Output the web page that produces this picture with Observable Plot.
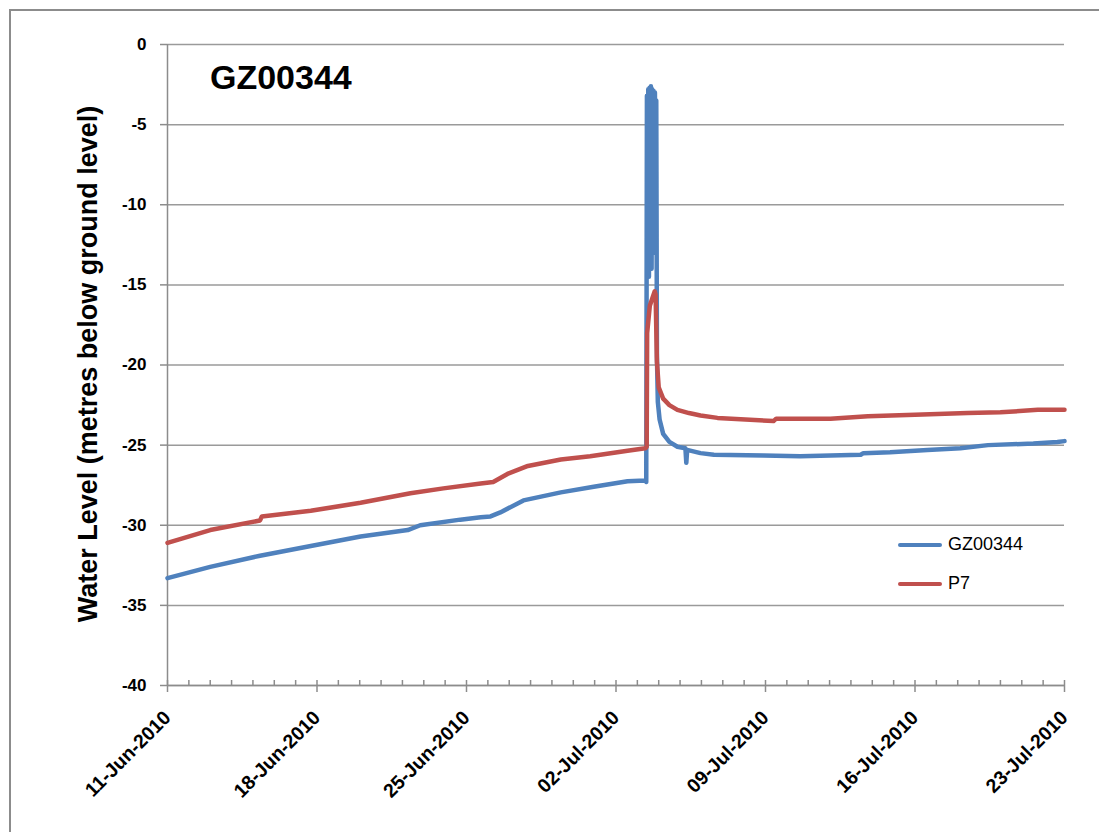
<!DOCTYPE html>
<html>
<head>
<meta charset="utf-8">
<script src="https://cdn.jsdelivr.net/npm/d3@7"></script>
<script src="https://cdn.jsdelivr.net/npm/@observablehq/plot@0.6"></script>
<style>
  html, body { margin: 0; padding: 0; background: #fff; }
  #wrap { position: relative; width: 1099px; height: 832px; overflow: hidden; font-family: "Liberation Sans", Arial, sans-serif; }
  #border { position: absolute; left: 9px; top: 9px; width: 1200px; height: 1000px; border-left: 2px solid #8c8c8c; border-top: 2px solid #8c8c8c; }
  #ylabel { position: absolute; left: 88px; top: 364px; transform: translate(-50%, -50%) rotate(-90deg); white-space: nowrap; font-weight: bold; font-size: 27px; color: #000; }
  #title { position: absolute; left: 210px; top: 58px; font-weight: bold; font-size: 34px; color: #000; }
  .leg { position: absolute; left: 898px; display: flex; align-items: center; font-size: 18px; color: #000; }
  .leg span.sw { display: inline-block; width: 44px; height: 4px; border-radius: 2px; margin-right: 6px; }
  #chart { position: absolute; left: 0; top: 0; }
</style>
</head>
<body>
<div id="wrap">
  <div id="border"></div>
  <div id="chart"></div>
  <div id="ylabel"></div>
  <div id="title"></div>
  <div id="legend"></div>
</div>
<script>
const titleText = "GZ00344";
const yLabel = "Water Level (metres below ground level)";
const seriesNames = ["GZ00344", "P7"];
const seriesColors = ["#4F81BD", "#C0504D"];
const yTicks = [0, -5, -10, -15, -20, -25, -30, -35, -40];
const xTickLabels = ["2010-06-11", "2010-06-18", "2010-06-25", "2010-07-02", "2010-07-09", "2010-07-16", "2010-07-23"];

const gzTimes = [
  "2010-06-11T00:00", "2010-06-13T00:00", "2010-06-15T08:00", "2010-06-17T17:00", "2010-06-20T01:00",
  "2010-06-22T06:00", "2010-06-22T20:00", "2010-06-24T17:00", "2010-06-25T16:00", "2010-06-26T03:00",
  "2010-06-26T14:00", "2010-06-27T16:00", "2010-06-29T10:00", "2010-06-30T23:00", "2010-07-02T13:00",
  "2010-07-03T09:00", "2010-07-03T10:00", "2010-07-03T10:45", "2010-07-03T11:30", "2010-07-03T12:15",
  "2010-07-03T13:00", "2010-07-03T13:45", "2010-07-03T14:30", "2010-07-03T15:15", "2010-07-03T16:00",
  "2010-07-03T16:45", "2010-07-03T17:30", "2010-07-03T18:15", "2010-07-03T19:00", "2010-07-03T19:45",
  "2010-07-03T20:30", "2010-07-03T21:15", "2010-07-03T22:00", "2010-07-03T23:00", "2010-07-04T01:00",
  "2010-07-04T05:00", "2010-07-04T12:00", "2010-07-04T21:00", "2010-07-05T06:00",
  "2010-07-05T07:00", "2010-07-05T08:00", "2010-07-05T23:00", "2010-07-06T14:00", "2010-07-08T22:00",
  "2010-07-10T15:00", "2010-07-12T01:00", "2010-07-13T11:00", "2010-07-13T14:00", "2010-07-14T20:00",
  "2010-07-16T14:00", "2010-07-18T03:00", "2010-07-19T10:00", "2010-07-21T13:00", "2010-07-22T16:00",
  "2010-07-23T00:00"
];
const gzLevels = [
  -33.3, -32.6, -31.9, -31.3, -30.7,
  -30.3, -30.0, -29.65, -29.5, -29.45,
  -29.2, -28.45, -27.95, -27.6, -27.25,
  -27.2, -27.3, -3.2, -13.5, -2.8,
  -14.5, -2.7, -11.0, -2.6, -14.0,
  -2.8, -9.0, -2.9, -13.0, -3.0,
  -12.0, -3.5, -19.5, -22.3, -23.4,
  -24.3, -24.8, -25.1, -25.2,
  -26.1, -25.3, -25.5, -25.6, -25.65,
  -25.7, -25.65, -25.6, -25.5, -25.45,
  -25.3, -25.2, -25.0, -24.9, -24.8,
  -24.75
];

const p7Times = [
  "2010-06-11T00:00", "2010-06-13T00:00", "2010-06-15T08:00", "2010-06-15T10:00", "2010-06-17T17:00",
  "2010-06-20T01:00", "2010-06-22T09:00", "2010-06-23T22:00", "2010-06-25T16:00", "2010-06-26T06:00",
  "2010-06-26T22:00", "2010-06-27T21:00", "2010-06-29T10:00", "2010-06-30T19:00", "2010-07-02T13:00",
  "2010-07-03T09:00", "2010-07-03T10:30", "2010-07-03T11:00", "2010-07-03T14:00", "2010-07-03T19:30",
  "2010-07-03T20:30", "2010-07-03T22:00", "2010-07-04T00:00", "2010-07-04T05:00", "2010-07-04T12:00",
  "2010-07-04T21:00", "2010-07-05T10:00", "2010-07-05T23:00", "2010-07-06T18:00", "2010-07-09T09:00",
  "2010-07-09T12:00", "2010-07-12T01:00", "2010-07-13T19:00", "2010-07-16T00:00", "2010-07-18T11:00",
  "2010-07-20T00:00", "2010-07-21T18:00", "2010-07-23T00:00"
];
const p7Levels = [
  -31.1, -30.3, -29.7, -29.45, -29.1,
  -28.6, -28.0, -27.7, -27.4, -27.3,
  -26.8, -26.3, -25.9, -25.7, -25.35,
  -25.2, -25.1, -18.0, -16.3, -15.4,
  -15.6, -19.8, -21.4, -22.1, -22.5,
  -22.8, -23.0, -23.15, -23.3, -23.5,
  -23.35, -23.35, -23.2, -23.1, -23.0,
  -22.95, -22.8, -22.8
];

const parse = d3.utcParse("%Y-%m-%dT%H:%M");
const gz = gzTimes.map((t, i) => ({date: parse(t), level: gzLevels[i]}));
const p7 = p7Times.map((t, i) => ({date: parse(t), level: p7Levels[i]}));
const majorDates = xTickLabels.map(d => d3.utcParse("%Y-%m-%d")(d));
const minorDates = d3.utcDay.range(majorDates[0], d3.utcDay.offset(majorDates[majorDates.length - 1], 1));
const fmt = d3.utcFormat("%d-%b-%Y");

const chart = Plot.plot({
  width: 1099,
  height: 832,
  marginLeft: 167,
  marginRight: 35,
  marginTop: 44,
  marginBottom: 147,
  style: {fontFamily: "'Liberation Sans', Arial, sans-serif", background: "transparent", color: "#000"},
  x: {type: "utc", domain: [majorDates[0], majorDates[majorDates.length - 1]]},
  y: {domain: [-40, 0]},
  marks: [
    Plot.gridY(yTicks, {stroke: "#9a9a9a", strokeOpacity: 1, strokeWidth: 1.5}),
    Plot.ruleX([majorDates[0]], {stroke: "#8c8c8c", strokeWidth: 1.5}),
    Plot.ruleY([-40], {stroke: "#8c8c8c", strokeWidth: 1.5}),
    Plot.axisY({ticks: yTicks, tickSize: 7, tickPadding: 14, tickFormat: d => String(d), fontSize: 17, fontWeight: "bold", label: null, stroke: "#8c8c8c", strokeWidth: 1.5}),
    Plot.axisX({ticks: minorDates, tickSize: -5, tickFormat: () => "", label: null, stroke: "#8c8c8c", strokeWidth: 1.5}),
    Plot.axisX({ticks: majorDates, tickSize: 7, tickPadding: 22, tickRotate: -45, tickFormat: fmt, fontSize: 19.5, fontWeight: "bold", label: null, stroke: "#8c8c8c", strokeWidth: 1.5}),
    Plot.line(gz, {x: "date", y: "level", stroke: seriesColors[0], strokeWidth: 4.5, strokeLinejoin: "round", strokeLinecap: "round"}),
    Plot.line(p7, {x: "date", y: "level", stroke: seriesColors[1], strokeWidth: 4.5, strokeLinejoin: "round", strokeLinecap: "round"})
  ]
});
document.getElementById("chart").appendChild(chart);
document.getElementById("ylabel").textContent = yLabel;
document.getElementById("title").textContent = titleText;
const legend = document.getElementById("legend");
seriesNames.forEach((name, i) => {
  const row = document.createElement("div");
  row.className = "leg";
  row.style.top = (534 + i * 39) + "px";
  row.innerHTML = `<span class="sw" style="background:${seriesColors[i]}"></span><span>${name}</span>`;
  legend.appendChild(row);
});
</script>
</body>
</html>
